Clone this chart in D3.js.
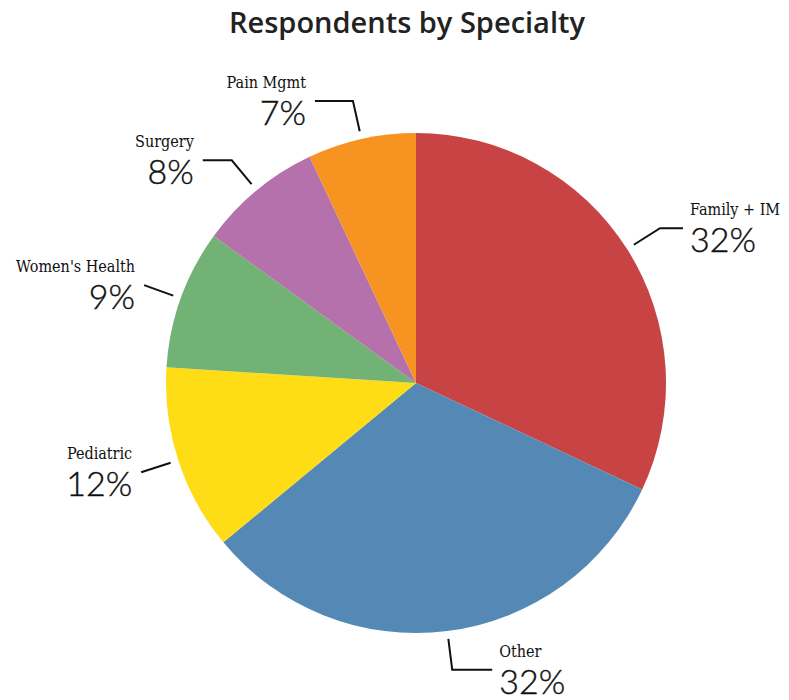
<!DOCTYPE html>
<html>
<head>
<meta charset="utf-8">
<script src="https://cdn.jsdelivr.net/npm/d3@7"></script>
<style>
  html, body { margin: 0; padding: 0; background: #ffffff; }
  svg { display: block; }
</style>
</head>
<body>
<svg id="chart" width="789" height="700"></svg>
<script>
const categories = ["Family + IM", "Other", "Pediatric", "Women's Health", "Surgery", "Pain Mgmt"];
const values = [32, 32, 12, 9, 8, 7];
const colors = ["#c84444", "#5589b5", "#fedc16", "#72b275", "#b471ab", "#f69321"];
// horizontal leader extension per label (layout only)
const leaderExt = [23, 40, 0, 0, 29, 38];

const W = 789, H = 700;
const cx = 416, cy = 383, R = 250;
const svg = d3.select("#chart");

svg.append("text")
  .attr("x", 407).attr("y", 33)
  .attr("text-anchor", "middle")
  .attr("font-family", "'Open Sans', sans-serif")
  .attr("font-weight", 600)
  .attr("font-size", 29)
  .attr("fill", "#222")
  .text("Respondents by Specialty");

const data = categories.map((c, i) => ({ cat: c, value: values[i], color: colors[i], ext: leaderExt[i] }));

const pie = d3.pie().value(d => d.value).sort(null);
const arcs = pie(data);
const arc = d3.arc().innerRadius(0).outerRadius(R);
const startArc = d3.arc().innerRadius(258).outerRadius(258);
const elbowArc = d3.arc().innerRadius(289).outerRadius(289);

const g = svg.append("g").attr("transform", `translate(${cx},${cy})`);

g.selectAll("path.slice").data(arcs).join("path")
  .attr("class", "slice")
  .attr("d", arc)
  .attr("fill", d => d.data.color);

const lab = g.selectAll("g.lab").data(arcs).join("g").attr("class", "lab");

lab.each(function(d) {
  const mid = (d.startAngle + d.endAngle) / 2;
  const right = Math.sin(mid) > 0;
  const p0 = startArc.centroid(d);
  const p1 = elbowArc.centroid(d);
  const p2 = [p1[0] + (right ? d.data.ext : -d.data.ext), p1[1]];
  const sel = d3.select(this);
  sel.append("polyline")
    .attr("points", [p0, p1, p2].map(p => p.join(",")).join(" "))
    .attr("fill", "none")
    .attr("stroke", "#111")
    .attr("stroke-width", 2);
  const tx = p2[0] + (right ? 7 : -9);
  const anchor = right ? "start" : "end";
  sel.append("text")
    .attr("x", tx).attr("y", p2[1] - 13)
    .attr("text-anchor", anchor)
    .attr("font-family", "'DejaVu Serif Condensed', 'DejaVu Serif', serif")
    .attr("font-size", 16)
    .attr("fill", "#111")
    .text(d.data.cat);
  sel.append("text")
    .attr("x", tx).attr("y", p2[1] + 24)
    .attr("text-anchor", anchor)
    .attr("font-family", "Lato, sans-serif")
    .attr("font-weight", 300)
    .attr("font-size", 34)
    .attr("stroke", "#111")
    .attr("stroke-width", 0.4)
    .attr("fill", "#111")
    .text(d.data.value + "%");
});
</script>
</body>
</html>
